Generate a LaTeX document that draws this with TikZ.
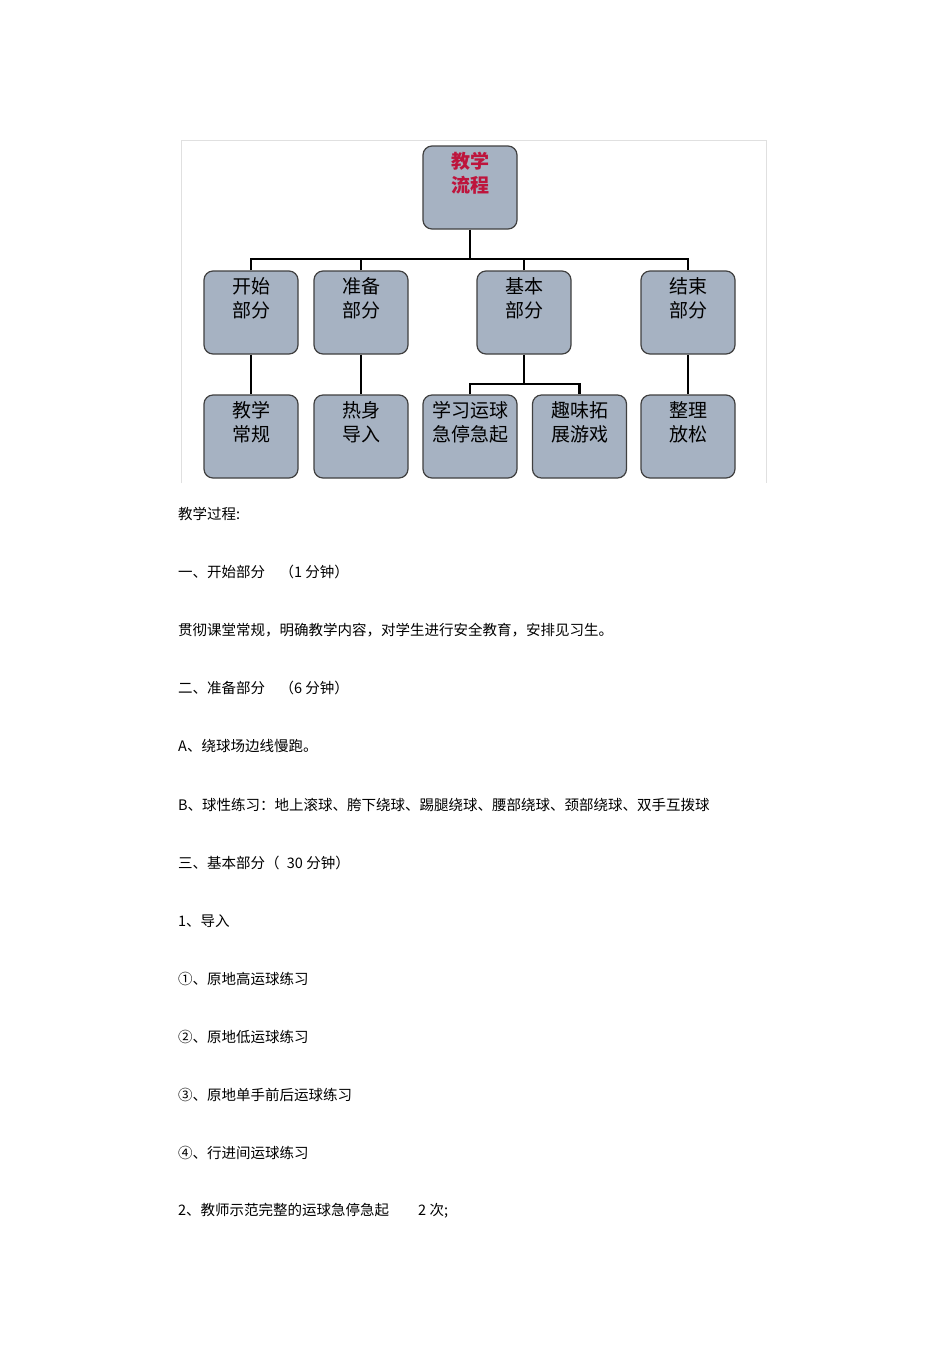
\documentclass[tikz,border=0pt]{standalone}
\usepackage{fontspec}
\setmainfont{Liberation Sans}
\newfontfamily\cjk{Noto Sans CJK SC}
\begin{document}
\begin{tikzpicture}[x=1pt,y=-1pt,
  bx/.style={draw=black!75,line width=1.2pt,fill={rgb,255:red,166;green,178;blue,194},rounded corners=9pt,minimum width=94pt,minimum height=83pt,inner sep=0pt},
  ln/.style={line width=2.4pt},
  bt/.style={font=\cjk\fontsize{19}{24}\selectfont,align=left,anchor=north,inner sep=0pt},
  tx/.style={anchor=west,font=\cjk\fontsize{14.5}{16}\selectfont,inner sep=0pt}]
\useasboundingbox (0,0) rectangle (950,1345);
\fill[white] (0,0) rectangle (950,1345);
\draw[black!12] (181,483) -- (181,140) -- (766,140) -- (766,483);
\node[bx] (top) at (470,187.5) {};
\node[bt,text={rgb,255:red,190;green,20;blue,60},font=\cjk\bfseries\fontsize{19}{24}\selectfont] at (470,152) {教学\\流程};
\foreach \n/\x/\a/\b in {k/251/开始/部分, z/361/准备/部分, j/524/基本/部分, e/688/结束/部分}{
  \node[bx] (\n) at (\x,312.5) {};
  \node[bt] at (\x,277) {\a\\\b};
}
\foreach \n/\x/\a/\b in {k2/251/教学/常规, z2/361/热身/导入, e2/688/整理/放松}{
  \node[bx] (\n) at (\x,436.5) {};
  \node[bt] at (\x,401) {\a\\\b};
}
\node[bx] (j2) at (470,436.5) {};
\node[bt] at (470,401) {学习运球\\急停急起};
\node[bx] (j3) at (579.5,436.5) {};
\node[bt] at (579.5,401) {趣味拓\\展游戏};
\draw[ln] (top.south) -- (470,259) coordinate (m);
\draw[ln] (k.north) -- (k.north|-m) -- (e.north|-m) -- (e.north);
\draw[ln] (z.north) -- (z.north|-m);
\draw[ln] (j.north) -- (j.north|-m);
\draw[ln] (k.south) -- (k2.north);
\draw[ln] (z.south) -- (z2.north);
\draw[ln] (e.south) -- (e2.north);
\draw[ln] (j.south) -- (524,384) coordinate (b);
\draw[ln] (j2.north) |- (b) -| (j3.north);
\node[tx] at (178,514) {教学过程:};
\node[tx] at (178,572) {一、开始部分\quad （1 分钟）};
\node[tx] at (178,630) {贯彻课堂常规，明确教学内容，对学生进行安全教育，安排见习生。};
\node[tx] at (178,688) {二、准备部分\quad （6 分钟）};
\node[tx] at (178,746) {A、绕球场边线慢跑。};
\node[tx] at (178,805) {B、球性练习：地上滚球、胯下绕球、踢腿绕球、腰部绕球、颈部绕球、双手互拨球};
\node[tx] at (178,863) {三、基本部分（\enspace 30 分钟）};
\node[tx] at (178,921) {1、导入};
\node[tx] at (178,979) {①、原地高运球练习};
\node[tx] at (178,1037) {②、原地低运球练习};
\node[tx] at (178,1095) {③、原地单手前后运球练习};
\node[tx] at (178,1153) {④、行进间运球练习};
\node[tx] at (178,1211) {2、教师示范完整的运球急停急起\qquad 2 次;};
\end{tikzpicture}
\end{document}
